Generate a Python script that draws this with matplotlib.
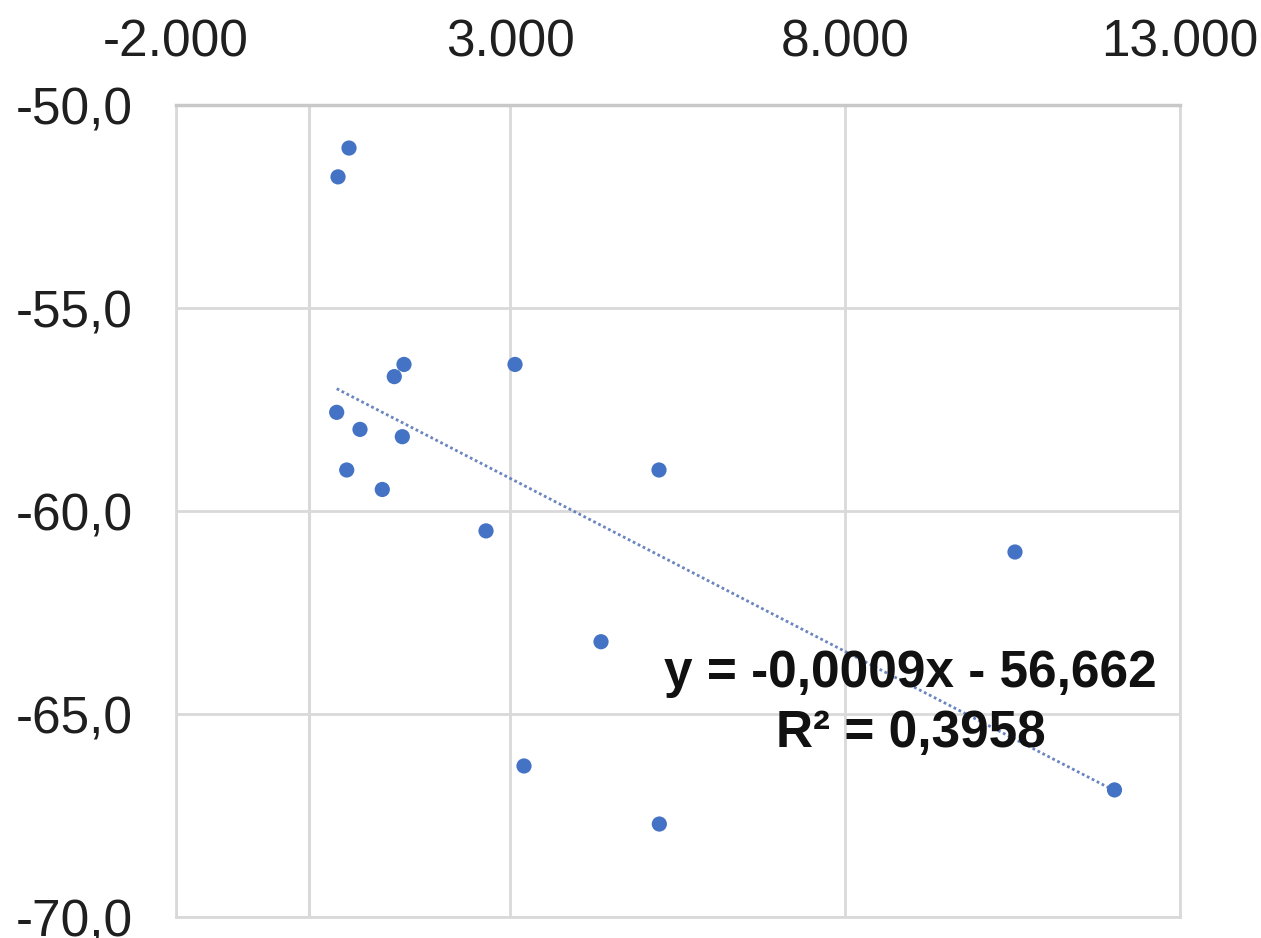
import numpy as np
import matplotlib
matplotlib.use("Agg")
import matplotlib.pyplot as plt
from matplotlib.ticker import FuncFormatter

# Data
x_values = [591, 427, 407, 557, 755, 1088, 1267, 1412, 1387, 2637, 3070,
            3204, 4354, 5220, 5225, 10536, 12022]
y_values = [-51.06, -51.77, -57.57, -58.99, -57.99, -59.47, -56.69, -56.39,
            -58.17, -60.49, -56.39, -66.28, -63.22, -58.99, -67.71, -61.01,
            -66.87]
x_ticks = [-2000, 3000, 8000, 13000]
y_ticks = [-50, -55, -60, -65, -70]
eq_label = "y = -0,0009x - 56,662"
r2_label = "R² = 0,3958"

plt.rcParams['font.family'] = ['Liberation Sans', 'DejaVu Sans']

fig = plt.figure(figsize=(12.61, 9.38), dpi=100)
ax = fig.add_axes([175.5 / 1261, 21 / 938, (1180 - 175.5) / 1261, (917 - 105) / 938])

blue = '#4472C4'
grid_c = '#d9d9d9'
text_c = '#1f1f1f'

ax.set_xlim(-2000, 13000)
ax.set_ylim(-70, -50)
ax.set_xticks(x_ticks)
ax.set_yticks(y_ticks)

ax.grid(True, color=grid_c, linewidth=2, zorder=0)
ax.axvline(0, color=grid_c, linewidth=2.2, zorder=0.5)

for side in ['left', 'right', 'bottom']:
    ax.spines[side].set_color(grid_c)
    ax.spines[side].set_linewidth(2)
ax.spines['top'].set_color('#c8c8c8')
ax.spines['top'].set_linewidth(2.5)

ax.xaxis.tick_top()
ax.tick_params(axis='both', length=0, labelsize=37, colors=text_c)
ax.tick_params(axis='x', pad=27)
ax.tick_params(axis='y', pad=31)

ax.xaxis.set_major_formatter(FuncFormatter(lambda v, p: f"{v:,.0f}".replace(',', '.')))
ax.yaxis.set_major_formatter(FuncFormatter(lambda v, p: f"{v:.1f}".replace('.', ',')))

xs = np.array(x_values, dtype=float)
ys = np.array(y_values, dtype=float)
slope, intercept = np.polyfit(xs, ys, 1)
xl = np.array([xs.min(), xs.max()])
ax.plot(xl, slope * xl + intercept, linestyle=(0, (1, 1)), color='#5a78b8',
        linewidth=2, alpha=0.9, zorder=2)

ax.scatter(xs, ys, s=120, color=blue, edgecolors='none', zorder=3)

ax.text(0.732, 0.2833, eq_label, transform=ax.transAxes, ha='center',
        va='baseline', fontsize=37, fontweight='bold', color='#111111', zorder=4)
ax.text(0.732, 0.2094, r2_label, transform=ax.transAxes, ha='center',
        va='baseline', fontsize=37, fontweight='bold', color='#111111', zorder=4)

fig.savefig('out.png', dpi=100, facecolor='white')
